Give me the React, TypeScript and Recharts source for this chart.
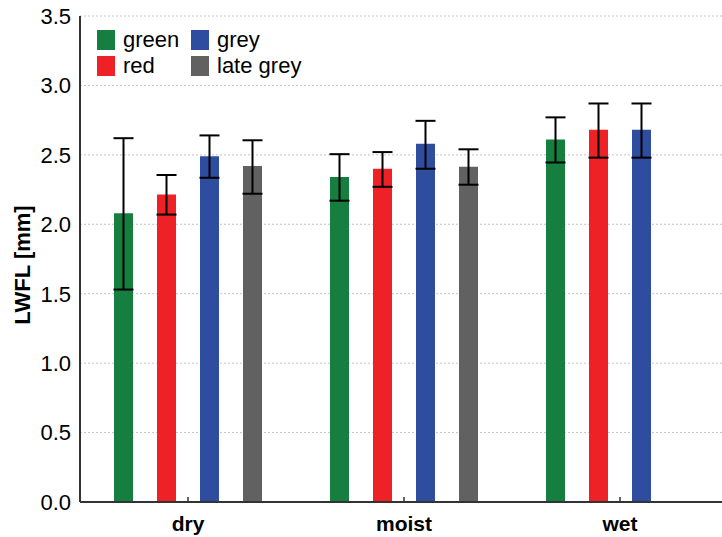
import { BarChart, Bar, XAxis, YAxis, CartesianGrid, ErrorBar } from 'recharts';

const categories = ['dry', 'moist', 'wet'];
const seriesNames = ['green', 'red', 'grey', 'late grey'];

const greenMean = [2.08, 2.34, 2.61];
const greenLow = [1.53, 2.17, 2.445];
const greenHigh = [2.62, 2.505, 2.77];

const redMean = [2.215, 2.4, 2.68];
const redLow = [2.07, 2.27, 2.48];
const redHigh = [2.355, 2.52, 2.87];

const greyMean = [2.49, 2.58, 2.68];
const greyLow = [2.335, 2.4, 2.48];
const greyHigh = [2.64, 2.745, 2.87];

const lateGreyMean = [2.42, 2.415, null];
const lateGreyLow = [2.22, 2.285, null];
const lateGreyHigh = [2.605, 2.54, null];

const yTicks = [0, 0.5, 1.0, 1.5, 2.0, 2.5, 3.0, 3.5];

const COLORS = {
  green: '#167f40',
  red: '#ee2226',
  grey: '#2f4d9f',
  lateGrey: '#616161',
};

const err = (m: number | null, lo: number | null, hi: number | null) =>
  m == null || lo == null || hi == null ? null : [m - lo, hi - m];

const data = categories.map((c, i) => ({
  name: c,
  green: greenMean[i],
  greenErr: err(greenMean[i], greenLow[i], greenHigh[i]),
  red: redMean[i],
  redErr: err(redMean[i], redLow[i], redHigh[i]),
  grey: greyMean[i],
  greyErr: err(greyMean[i], greyLow[i], greyHigh[i]),
  lateGrey: lateGreyMean[i],
  lateGreyErr: err(lateGreyMean[i], lateGreyLow[i], lateGreyHigh[i]),
}));

const FONT = 'Liberation Sans, Arial, sans-serif';

const BottomTick = ({ x, y, payload }: any) => (
  <g>
    <line x1={x} y1={502} x2={x} y2={497} stroke="#333" strokeWidth={1.5} />
    <text x={x} y={y + 27} textAnchor="middle" fontFamily={FONT} fontSize={21} fontWeight="bold" fill="#000">
      {payload.value}
    </text>
  </g>
);

const legendItems = [
  { label: seriesNames[0], color: COLORS.green, x: 97, y: 30 },
  { label: seriesNames[1], color: COLORS.red, x: 97, y: 56 },
  { label: seriesNames[2], color: COLORS.grey, x: 191, y: 30 },
  { label: seriesNames[3], color: COLORS.lateGrey, x: 191, y: 56 },
];

const Legend = () => (
  <svg width={722} height={537} style={{ position: 'absolute', left: 0, top: 0, pointerEvents: 'none' }}>
    {legendItems.map((it) => (
      <g key={it.label}>
        <rect x={it.x} y={it.y} width={18} height={20} fill={it.color} />
        <text x={it.x + 26} y={it.y + 17} fontFamily={FONT} fontSize={22} fill="#000">
          {it.label}
        </text>
      </g>
    ))}
    <text
      x={30}
      y={265}
      transform="rotate(-90 30 265)"
      textAnchor="middle"
      fontFamily={FONT}
      fontSize={22}
      fontWeight="bold"
      fill="#000"
    >
      LWFL [mm]
    </text>
  </svg>
);

export default function App() {
  return (
    <div
      style={{
        position: 'fixed',
        left: 0,
        top: 0,
        width: 722,
        height: 537,
        overflow: 'hidden',
        background: '#fff',
      }}
    >
      <BarChart
        width={740}
        height={537}
        data={data}
        margin={{ top: 16, right: 12, left: 0, bottom: 0 }}
        barSize={19}
        barGap={24}
        barCategoryGap={34}
      >
        <CartesianGrid vertical={false} stroke="#c4c4c4" strokeDasharray="2 2" />
        <XAxis
          dataKey="name"
          height={35}
          axisLine={{ stroke: '#333', strokeWidth: 2 }}
          tickLine={false}
          tickSize={0}
          tick={<BottomTick />}
          interval={0}
        />
        <XAxis
          xAxisId="top"
          dataKey="name"
          orientation="top"
          height={0}
          mirror
          tick={false}
          tickSize={5}
          tickLine={{ stroke: '#333', strokeWidth: 1.5 }}
          axisLine={{ stroke: '#333', strokeWidth: 2 }}
        />
        <YAxis
          width={80}
          domain={[0, 3.5]}
          ticks={yTicks}
          interval={0}
          tickSize={0}
          tickMargin={9}
          tickLine={false}
          axisLine={{ stroke: '#333', strokeWidth: 2 }}
          tickFormatter={(v: number) => v.toFixed(1)}
          tick={{ fill: '#000', fontSize: 22, fontFamily: FONT }}
        />
        <Bar dataKey="green" fill={COLORS.green} isAnimationActive={false}>
          <ErrorBar dataKey="greenErr" width={10} stroke="#000" strokeWidth={2} />
        </Bar>
        <Bar dataKey="red" fill={COLORS.red} isAnimationActive={false}>
          <ErrorBar dataKey="redErr" width={10} stroke="#000" strokeWidth={2} />
        </Bar>
        <Bar dataKey="grey" fill={COLORS.grey} isAnimationActive={false}>
          <ErrorBar dataKey="greyErr" width={10} stroke="#000" strokeWidth={2} />
        </Bar>
        <Bar dataKey="lateGrey" fill={COLORS.lateGrey} isAnimationActive={false}>
          <ErrorBar dataKey="lateGreyErr" width={10} stroke="#000" strokeWidth={2} />
        </Bar>
      </BarChart>
      <Legend />
    </div>
  );
}
